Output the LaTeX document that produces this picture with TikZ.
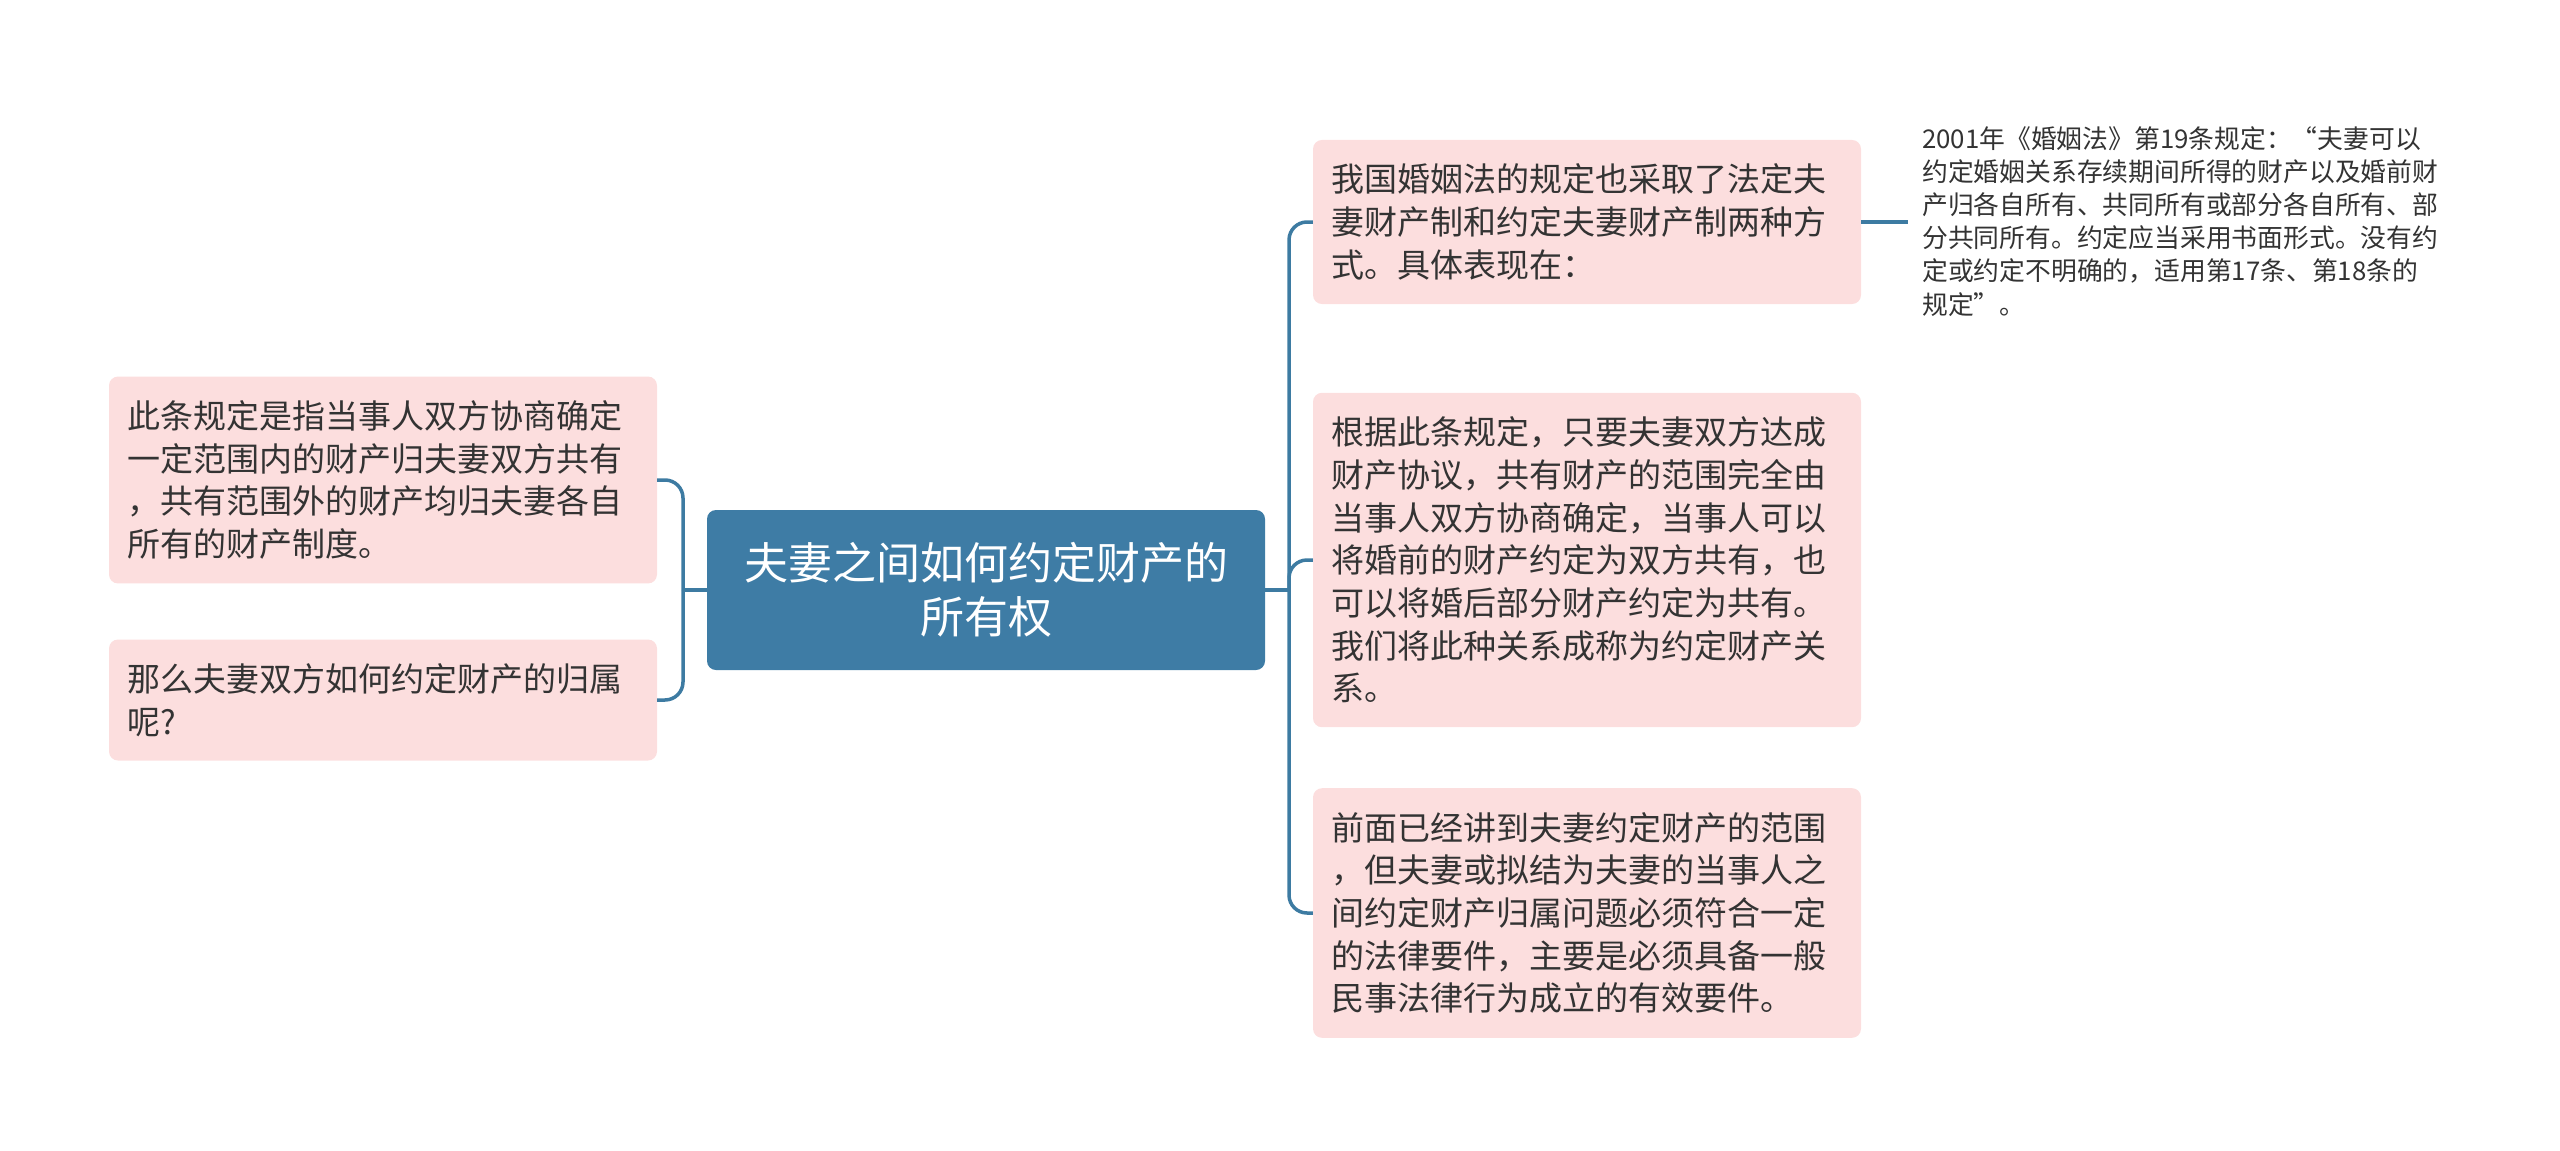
\documentclass[tikz,border=0pt]{standalone}
\usepackage{fontspec}
\setmainfont{Noto Sans CJK SC}
\definecolor{rootblue}{HTML}{3E7CA5}
\definecolor{linkblue}{HTML}{3D7BA2}
\definecolor{subpink}{HTML}{FCDEDE}
\definecolor{txtgray}{HTML}{333333}
\begin{document}
\begin{tikzpicture}[
    x=1pt, y=-1pt,
    topic/.style={rectangle, rounded corners=9pt, fill=rootblue, text=white,
        font=\fontsize{44}{54}\selectfont, align=center,
        minimum width=558pt, minimum height=160pt},
    sub/.style={rectangle, rounded corners=9pt, fill=subpink, text=txtgray,
        font=\fontsize{33}{42.7}\selectfont, align=left, text width=512pt,
        inner xsep=18pt, inner ysep=24pt},
    note/.style={text=txtgray, font=\fontsize{25.8}{33.2}\selectfont,
        align=left, inner sep=0pt},
    link/.style={draw=linkblue, line width=3.5pt, rounded corners=18pt}
]
\useasboundingbox (0,0) rectangle (2560,1151);

% Centro
\node[topic] (root) at (986,590) {夫妻之间如何约定财产的\\所有权};

% Sinistra
\node[sub] (l1) at (383,480) {此条规定是指当事人双方协商确定\\一定范围内的财产归夫妻双方共有\\，共有范围外的财产均归夫妻各自\\所有的财产制度。};
\node[sub] (l2) at (383,700) {那么夫妻双方如何约定财产的归属\\呢?};

% Destra
\node[sub] (r1) at (1587,222) {我国婚姻法的规定也采取了法定夫\\妻财产制和约定夫妻财产制两种方\\式。具体表现在：};
\node[sub] (r2) at (1587,560) {根据此条规定，只要夫妻双方达成\\财产协议，共有财产的范围完全由\\当事人双方协商确定，当事人可以\\将婚前的财产约定为双方共有，也\\可以将婚后部分财产约定为共有。\\我们将此种关系成称为约定财产关\\系。};
\node[sub] (r3) at (1587,913) {前面已经讲到夫妻约定财产的范围\\，但夫妻或拟结为夫妻的当事人之\\间约定财产归属问题必须符合一定\\的法律要件，主要是必须具备一般\\民事法律行为成立的有效要件。};
\node[note, anchor=north west] (n1) at (1922,126) {2001年《婚姻法》第19条规定：“夫妻可以\\约定婚姻关系存续期间所得的财产以及婚前财\\产归各自所有、共同所有或部分各自所有、部\\分共同所有。约定应当采用书面形式。没有约\\定或约定不明确的，适用第17条、第18条的\\规定”。};

% Collegamenti
\coordinate (lj) at (683,590);
\coordinate (rj) at (1289,590);
\coordinate (nj) at (1908,222);
\draw[link] (root.west) -- (lj);
\foreach \n in {l1,l2}
    \draw[link] (lj) |- (\n.east);
\draw[link] (root.east) -- (rj);
\foreach \n in {r1,r2,r3}
    \draw[link] (rj) |- (\n.west);
\draw[link] (r1.east) -- (nj);
\end{tikzpicture}
\end{document}
